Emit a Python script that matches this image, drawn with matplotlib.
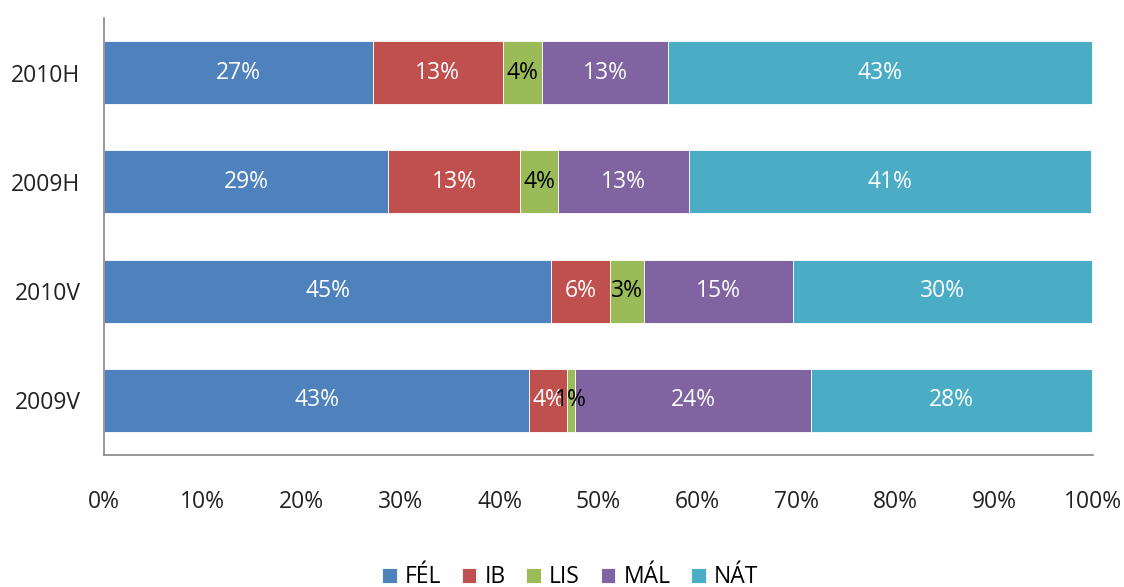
import numpy as np
from matplotlib import pyplot as plt

# Rows from bottom to top
years = ['2009V', '2010V', '2009H', '2010H']
series = ['FÉL', 'IB', 'LIS', 'MÁL', 'NÁT']
fel = [43.0, 45.2, 28.7, 27.2]
ib = [3.8, 6.0, 13.4, 13.1]
lis = [0.8, 3.4, 3.8, 4.0]
mal = [23.9, 15.1, 13.3, 12.7]
nat = [28.4, 30.2, 40.6, 42.9]

colors = ['#4F81BD', '#C0504D', '#9BBB59', '#8064A2', '#4BACC6']
text_colors = ['white', 'white', 'black', 'white', 'white']

plt.rcParams['font.family'] = ['Open Sans', 'DejaVu Sans']

fig = plt.figure(figsize=(11.24, 5.87), dpi=100)
ax = fig.add_axes([104 / 1124, 1 - 455 / 587, 989 / 1124, 437 / 587])

y = np.arange(len(years))
left = np.zeros(len(years))
for name, vals, c, tc in zip(series, [fel, ib, lis, mal, nat], colors, text_colors):
    vals = np.array(vals)
    ax.barh(y, vals, left=left, height=0.575, color=c, label=name,
            edgecolor='white', linewidth=0.6)
    for yi, l, v in zip(y, left, vals):
        ax.text(l + v / 2, yi, f'{v:.0f}%', ha='center', va='center',
                color=tc, fontsize=16.5)
    left += vals

ax.set_xlim(0, 100)
ax.set_ylim(-0.5, 3.5)
ax.set_xticks(np.arange(0, 101, 10))
ax.set_xticklabels([f'{t}%' for t in range(0, 101, 10)])
ax.set_yticks(y)
ax.set_yticklabels(years)
ax.tick_params(axis='both', length=0, labelsize=16.5, colors='#222222')
ax.tick_params(axis='x', pad=25)
ax.tick_params(axis='y', pad=17)

for side in ['top', 'right']:
    ax.spines[side].set_visible(False)
for side in ['left', 'bottom']:
    ax.spines[side].set_color('#868686')
    ax.spines[side].set_linewidth(1.2)

ax.legend(loc='upper center', bbox_to_anchor=(466 / 989, -0.205), ncol=5,
          frameon=False, fontsize=16.5, handlelength=0.65, handleheight=0.65,
          handletextpad=0.35, columnspacing=0.9)

fig.savefig('out.png', dpi=100)
